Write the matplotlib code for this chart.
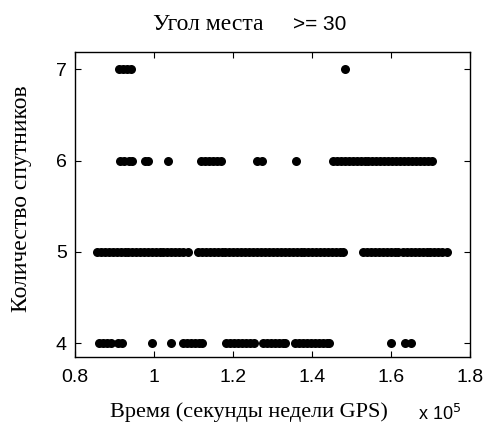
import matplotlib
matplotlib.use("Agg")
import matplotlib.pyplot as plt

# time in units of 1e5 s (GPS seconds of week), one list per satellite count
t_sat4 = [0.861, 0.871, 0.881, 0.891, 0.910, 0.918,
          0.995, 1.043,
          1.073, 1.083, 1.093, 1.103, 1.113, 1.122,
          1.182, 1.192, 1.202, 1.212, 1.222, 1.232, 1.242, 1.252,
          1.276, 1.286, 1.296, 1.306, 1.316, 1.326, 1.332,
          1.357, 1.367, 1.377, 1.387, 1.397, 1.407, 1.417, 1.427, 1.437, 1.442,
          1.600, 1.635, 1.650]
t_sat5 = [0.856, 0.866, 0.876, 0.886, 0.896, 0.906, 0.916, 0.926,
          0.934, 0.944, 0.954, 0.964, 0.974, 0.984, 0.994, 1.004, 1.014,
          1.024, 1.034, 1.044, 1.054, 1.064, 1.074, 1.086,
          1.111, 1.121, 1.131, 1.141, 1.151, 1.161, 1.171, 1.181, 1.191,
          1.201, 1.211, 1.221, 1.231, 1.241, 1.251, 1.261, 1.271, 1.281,
          1.291, 1.301, 1.311, 1.321, 1.331, 1.341, 1.351, 1.361, 1.371,
          1.381, 1.391, 1.401, 1.411, 1.421, 1.431, 1.441, 1.451, 1.461,
          1.471, 1.478,
          1.529, 1.539, 1.549, 1.559, 1.569, 1.579, 1.589, 1.599, 1.609, 1.618,
          1.630, 1.640, 1.650, 1.660, 1.670, 1.680, 1.690, 1.700, 1.710,
          1.720, 1.730, 1.742]
t_sat6 = [0.914, 0.924, 0.937, 0.944, 0.977, 0.985, 1.035,
          1.119, 1.129, 1.139, 1.149, 1.159, 1.170,
          1.261, 1.273, 1.359,
          1.453, 1.463, 1.473, 1.483, 1.493, 1.503, 1.513, 1.523, 1.533,
          1.543, 1.553, 1.563, 1.573, 1.583, 1.593, 1.603, 1.613, 1.623,
          1.633, 1.643, 1.653, 1.663, 1.673, 1.683, 1.693, 1.703]
t_sat7 = [0.912, 0.922, 0.932, 0.942, 1.484]

xticks = [0.8, 1.0, 1.2, 1.4, 1.6, 1.8]
xtick_labels = ["0.8", "1", "1.2", "1.4", "1.6", "1.8"]
yticks = [4, 5, 6, 7]

serif = ["Liberation Serif", "DejaVu Serif"]
sans = ["Liberation Sans", "DejaVu Sans"]

W, H = 489, 434
fig = plt.figure(figsize=(W / 100, H / 100), dpi=100)
ax = fig.add_axes([75 / W, 1 - 357 / H, (470 - 75) / W, (357 - 52) / H])

for n, t in [(4, t_sat4), (5, t_sat5), (6, t_sat6), (7, t_sat7)]:
    ax.plot(t, [n] * len(t), "o", color="black", markersize=6.5, markeredgewidth=0)

ax.set_xlim(0.8, 1.8)
ax.set_ylim(3.85, 7.19)
ax.set_xticks(xticks)
ax.set_xticklabels(xtick_labels)
ax.set_yticks(yticks)
ax.tick_params(direction="in", top=True, right=True, length=4, labelsize=14)
ax.tick_params(axis="x", pad=9)
ax.tick_params(axis="y", pad=6)
for lbl in ax.get_xticklabels() + ax.get_yticklabels():
    lbl.set_family(sans)
for s in ax.spines.values():
    s.set_linewidth(1.0)

# title: serif words plus sans condition, as in the original export
fig.text(153 / W, 1 - 30 / H, "Угол места", family=serif, fontsize=17, ha="left", va="baseline")
fig.text(293 / W, 1 - 30 / H, ">= 30", family=sans, fontsize=15, ha="left", va="baseline")

fig.text(249 / W, 1 - 417 / H, "Время (секунды недели GPS)", family=serif, fontsize=16,
         ha="center", va="baseline")
fig.text(22 / W, 1 - 199 / H, "Количество спутников", family=serif, fontsize=17,
         rotation=90, ha="center", va="center")
fig.text(418 / W, 1 - 420 / H, r"x 10$^5$", family=sans, fontsize=13, ha="left", va="baseline")

fig.savefig("out.png", dpi=100)
